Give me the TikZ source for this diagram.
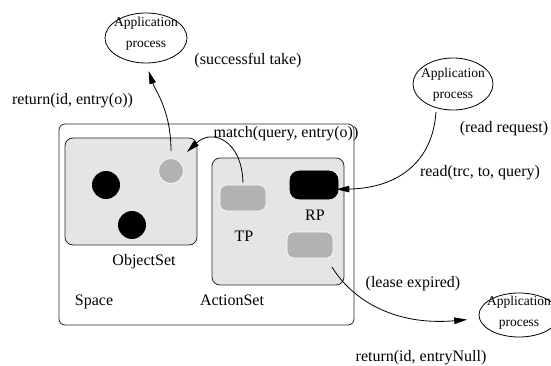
\documentclass[tikz,border=0pt]{standalone}
\usepackage{fontspec}
\setmainfont{Liberation Serif}
\usetikzlibrary{shapes.geometric,arrows.meta}
\definecolor{boxgray}{RGB}{229,229,229}
\definecolor{objgray}{RGB}{178,178,178}
\definecolor{edgegray}{RGB}{40,40,40}
\begin{document}
\begin{tikzpicture}[x=1pt,y=-1pt,
  lbl/.style={font=\fontsize{16}{19}\selectfont, inner sep=0, anchor=base},
  apptxt/.style={font=\fontsize{13.5}{21}\selectfont, align=center, inner sep=0},
  appell/.style={draw, ellipse, line width=0.8pt, inner sep=0},
  spacebox/.style={draw=edgegray, line width=0.8pt, rounded corners=6pt, inner sep=0},
  setbox/.style={draw=edgegray, line width=0.8pt, fill=boxgray, rounded corners=8pt, inner sep=0},
  graydot/.style={circle, fill=objgray, draw=white, line width=0.6pt, minimum size=25pt, inner sep=0},
  blackdot/.style={circle, fill=black, minimum size=28pt, inner sep=0},
  pill/.style={rounded corners=7pt, draw=white, line width=0.6pt, minimum width=46pt, minimum height=26pt, inner sep=0},
  arr/.style={-{Triangle[length=13pt,width=6.5pt]}, line width=0.8pt}
]
\useasboundingbox (0,0) rectangle (551,366);

% containers
\node[spacebox, minimum width=295pt, minimum height=201pt] (space) at (206.5,224.5) {};
\node[setbox, minimum width=132pt, minimum height=107pt] (objset) at (131,191.5) {};
\node[setbox, minimum width=132pt, minimum height=127pt] (actset) at (278,221.5) {};

% objects
\node[graydot] (circ) at (171,171) {};
\node[blackdot] (b1) at (106,185) {};
\node[blackdot] (b2) at (132,225) {};
\node[pill, fill=objgray] (TP) at (243,198) {};
\node[pill, fill=black, draw=black, rounded corners=9pt, minimum width=48pt, minimum height=28pt] (RP) at (314,185) {};
\node[pill, fill=objgray] (R3) at (310,245) {};

% labels
\node[lbl] (tSpace) at (94,305) {Space};
\node[lbl] (tAct) at (232,305) {ActionSet};
\node[lbl] (tObj) at (144,265) {ObjectSet};
\node[lbl] (tTP) at (244,241) {TP};
\node[lbl] (tRP) at (315,220) {RP};
\node[lbl] (tmatch) at (286,138) {match(query, entry(o))};
\node[lbl] (tsucc) at (248,65) {(successful take)};
\node[lbl] (tret1) at (72.5,105) {return(id, entry(o))};
\node[lbl] (treadreq) at (504,133) {(read request)};
\node[lbl] (tread) at (480,177) {read(trc, to, query)};
\node[lbl] (tlease) at (413,287) {(lease expired)};
\node[lbl] (tret2) at (421,361) {return(id, entryNull)};

% application processes
\node[appell, minimum width=82pt, minimum height=50pt] (app1) at (146,38) {};
\node[apptxt] (app1t) at (146,34) {Application\\process};
\node[appell, minimum width=80pt, minimum height=52pt] (app2) at (453,84) {};
\node[apptxt] (app2t) at (453,85) {Application\\process};
\node[appell, minimum width=80pt, minimum height=44pt] (app3) at (519,315) {};
\node[apptxt] (app3t) at (519,313) {Application\\process};

% connectors
\coordinate (mtip) at (187,152);
\coordinate (lstart) at (332,267);
\draw[arr, shorten <=7pt, shorten >=8pt] (circ.north) .. controls (171,110) and (155,90) .. (app1.south);
\draw[arr, shorten <=2pt] (TP.north) .. controls (242,140) and (212,128) .. (mtip);
\draw[arr, shorten <=4pt, shorten >=-2pt] (app2.235) .. controls (433,160) and (400,188) .. (RP.-10);
\draw[arr, shorten >=12pt] (lstart) .. controls (352,300) and (395,326) .. (app3);
\end{tikzpicture}
\end{document}
